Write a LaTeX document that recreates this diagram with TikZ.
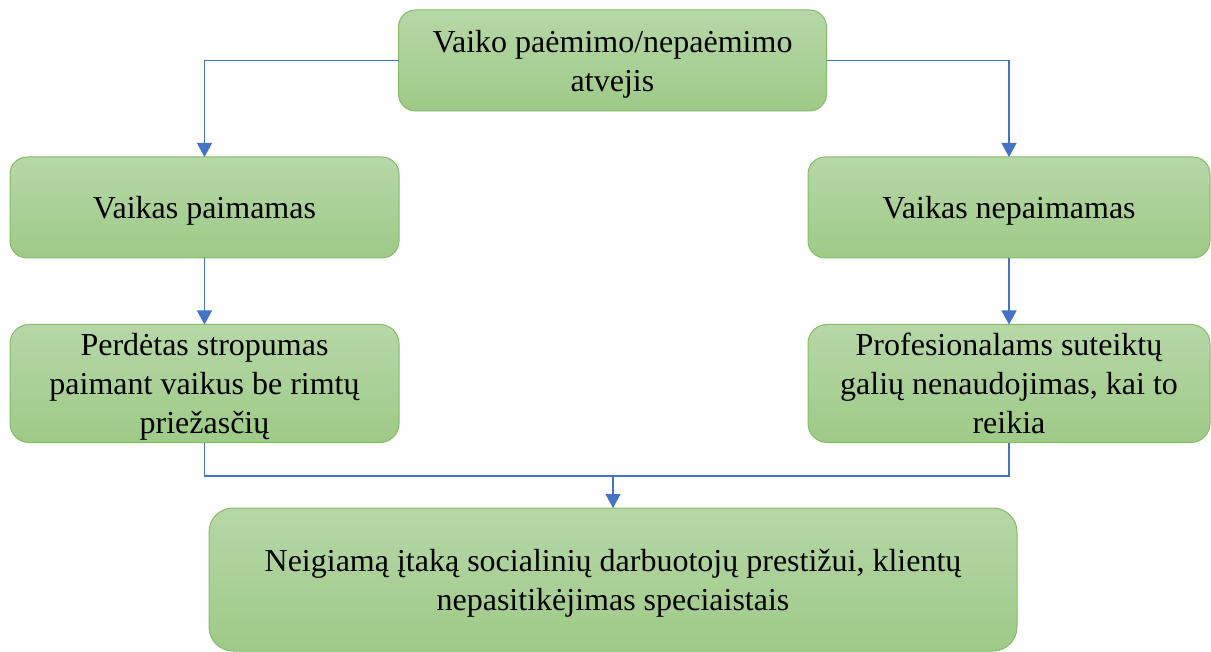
\documentclass[tikz,border=0pt]{standalone}
\usepackage{fontspec}
\setmainfont{Liberation Serif}
\usepackage{tikz}
\usetikzlibrary{arrows.meta,positioning}
\newcommand{\boxtext}[1]{\raisebox{-3.5pt}[\height][\depth]{\begin{tabular}{@{}c@{}}#1\end{tabular}}}

\begin{document}
\begin{tikzpicture}[x=1pt,y=-1pt,
  box/.style={draw={rgb,255:red,133;green,189;blue,104},line width=1pt,
    top color={rgb,255:red,182;green,215;blue,167},
    bottom color={rgb,255:red,158;green,202;blue,135},
    rounded corners=17pt,align=center,inner sep=0pt,outer sep=0pt,
    font=\rmfamily\fontsize{32}{39}\selectfont},
  link/.style={draw={rgb,255:red,68;green,114;blue,196},line width=1.3pt,
    -{Triangle[length=14pt,width=15pt]}}]
  \useasboundingbox (0,0) rectangle (1211,652);
  \node[box,minimum width=428pt,minimum height=101pt] (atv) at (612.5,60.5)
    {\boxtext{Vaiko paėmimo/nepaėmimo\\atvejis}};
  \node[box,minimum width=389pt,minimum height=101pt] (paim) at (204.5,207.5)
    {\boxtext{Vaikas paimamas}};
  \node[box,minimum width=402pt,minimum height=101pt] (nepaim) at (1009,207.5)
    {\boxtext{Vaikas nepaimamas}};
  \node[box,minimum width=389pt,minimum height=118pt,rounded corners=19pt] (perd) at (204.5,383.5)
    {\boxtext{Perdėtas stropumas\\paimant vaikus be rimtų\\priežasčių}};
  \node[box,minimum width=402pt,minimum height=118pt,rounded corners=19pt] (prof) at (1009,383.5)
    {\boxtext{Profesionalams suteiktų\\galių nenaudojimas, kai to\\reikia}};
  \node[box,minimum width=808pt,minimum height=143pt,rounded corners=24pt] (neig) at (613,579.5)
    {\boxtext{Neigiamą įtaką socialinių darbuotojų prestižui, klientų\\nepasitikėjimas speciaistais}};
  \coordinate (join) at (613,476);
  \path[link]
    (atv.west) -| (paim.north);
  \path[link]
    (atv.east) -| (nepaim.north);
  \path[link] (paim) -- (perd);
  \path[link] (nepaim) -- (prof);
  \draw[link,-] (perd.south) |- (join) -| (prof.south);
  \path[link] (join) -- (neig.north);
\end{tikzpicture}
\end{document}
